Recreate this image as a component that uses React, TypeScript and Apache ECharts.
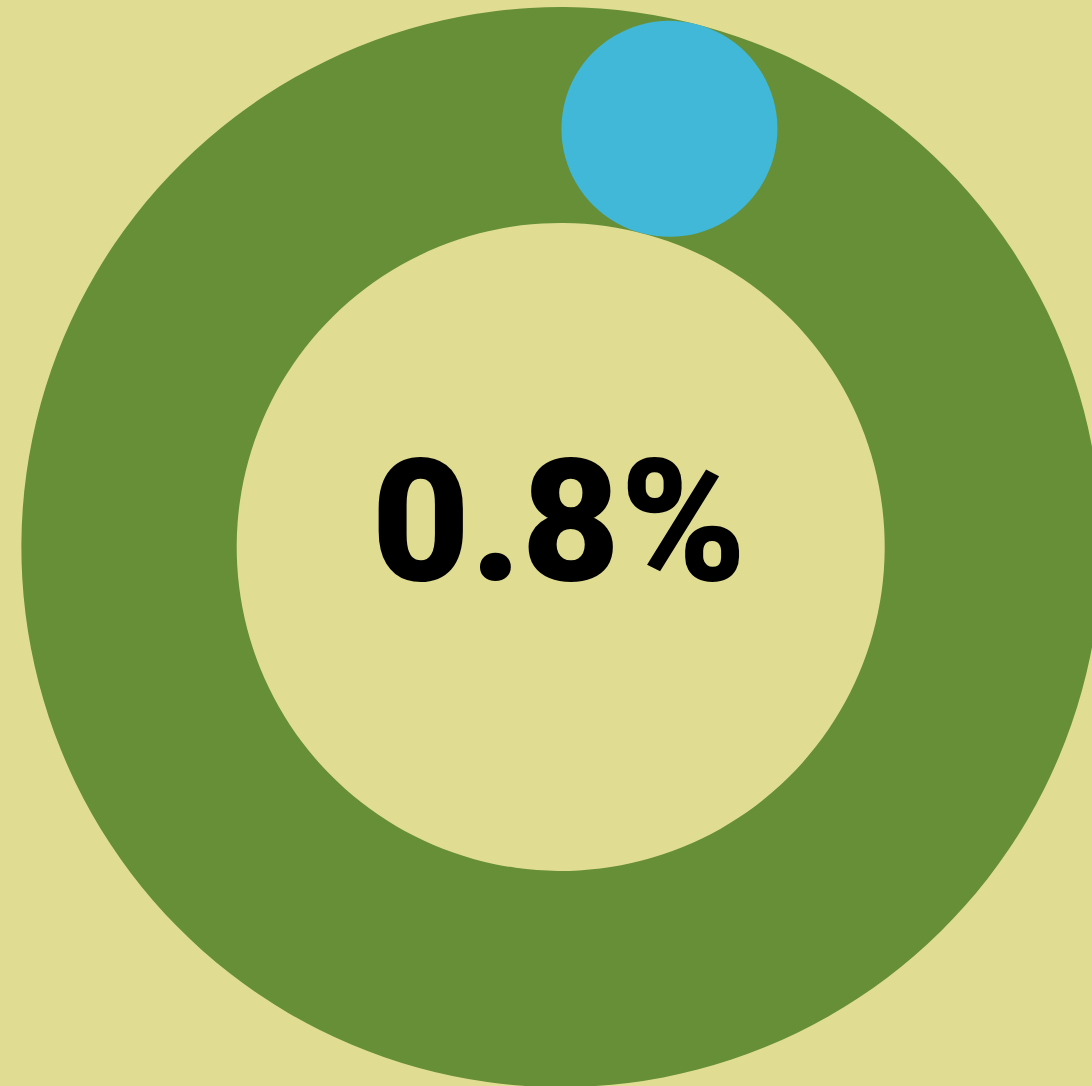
import React, { useEffect, useRef } from "react";
import * as echarts from "echarts";

const shareValues: number[] = [0.8];
const scaleRange: number[] = [0, 100];

export default function App() {
  const ref = useRef<HTMLDivElement>(null);
  useEffect(() => {
    document.body.style.margin = "0";
    const chart = echarts.init(ref.current!, null, { renderer: "svg" });
    chart.setOption({
      animation: false,
      backgroundColor: "#e0dd93",
      series: [
        {
          type: "gauge",
          center: [561, 547],
          radius: 540,
          min: scaleRange[0],
          max: scaleRange[1],
          startAngle: 78.32,
          endAngle: 78.32 - 360,
          clockwise: true,
          axisLine: {
            show: true,
            lineStyle: { width: 216, color: [[1, "#668f38"]] },
          },
          progress: { show: false },
          axisTick: { show: false },
          splitLine: { show: false },
          axisLabel: { show: false },
          anchor: { show: false },
          title: { show: false },
          pointer: {
            show: true,
            icon: "circle",
            length: 864,
            width: 216,
            offsetCenter: [0, 0],
            itemStyle: { color: "#41b8d7" },
          },
          detail: {
            show: true,
            offsetCenter: [-2, -25],
            formatter: "{value}%",
            fontSize: 170,
            fontWeight: 900,
            fontFamily: "Roboto",
            color: "#000000",
            valueAnimation: false,
          },
          data: [{ value: shareValues[0] }],
        },
      ],
    });
    return () => chart.dispose();
  }, []);
  return <div ref={ref} style={{ width: 1092, height: 1086 }} />;
}
